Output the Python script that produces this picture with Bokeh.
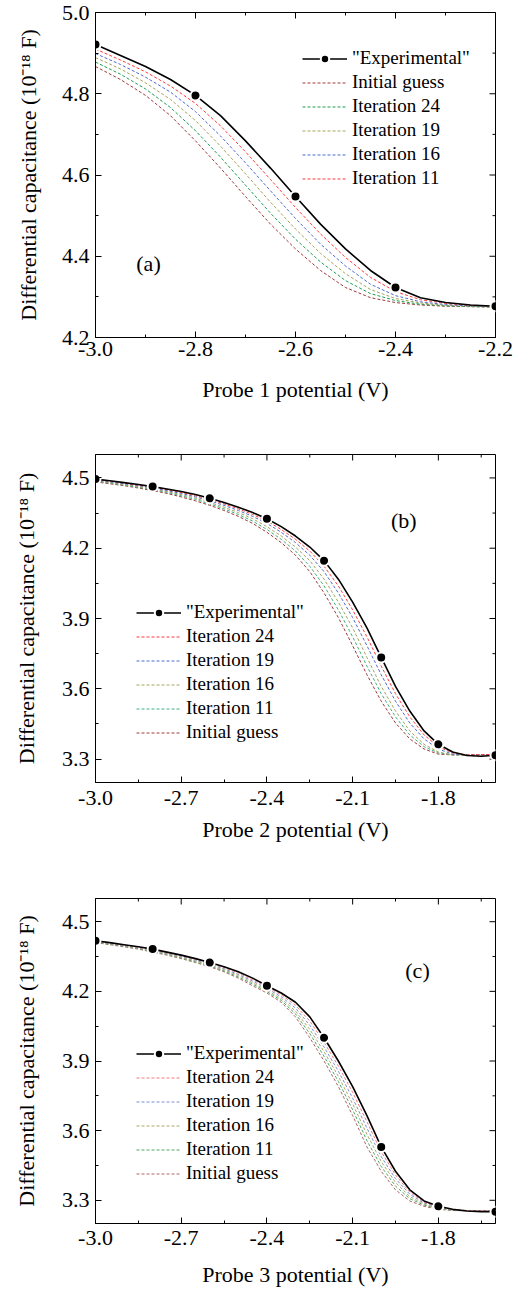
import math
from bokeh.plotting import figure
from bokeh.models import (FixedTicker, NumeralTickFormatter, Range1d,
                          Legend, LegendItem, Label, ColumnDataSource)
from bokeh.layouts import column
from bokeh.embed import file_html
from bokeh.resources import INLINE

FONT = "Liberation Serif"

# ---------------- data: panel (a) ----------------
a_grid = [-3.00, -2.95, -2.90, -2.85, -2.80, -2.75, -2.70, -2.65, -2.60,
          -2.55, -2.50, -2.45, -2.40, -2.35, -2.30, -2.25, -2.20]
a_pts_x = [-3.0, -2.8, -2.6, -2.4, -2.2]
a_pts_y = [4.921, 4.796, 4.547, 4.323, 4.277]
a_exp = [4.921, 4.894, 4.867, 4.835, 4.796, 4.746, 4.684, 4.617, 4.547,
         4.479, 4.418, 4.365, 4.323, 4.298, 4.286, 4.280, 4.277]
a_it11 = [4.910, 4.883, 4.854, 4.819, 4.776, 4.721, 4.657, 4.589, 4.520,
          4.455, 4.397, 4.348, 4.313, 4.293, 4.284, 4.279, 4.277]
a_it16 = [4.899, 4.872, 4.841, 4.804, 4.756, 4.696, 4.630, 4.561, 4.493,
          4.430, 4.376, 4.331, 4.303, 4.288, 4.281, 4.278, 4.276]
a_it19 = [4.889, 4.861, 4.827, 4.786, 4.734, 4.671, 4.603, 4.533, 4.467,
          4.407, 4.357, 4.318, 4.296, 4.285, 4.279, 4.277, 4.276]
a_it24 = [4.878, 4.848, 4.812, 4.766, 4.709, 4.644, 4.575, 4.506, 4.442,
          4.386, 4.340, 4.308, 4.291, 4.282, 4.278, 4.276, 4.275]
a_init = [4.867, 4.835, 4.796, 4.746, 4.684, 4.617, 4.547, 4.479, 4.418,
          4.365, 4.323, 4.298, 4.286, 4.280, 4.277, 4.276, 4.275]
a_xticks = [-3.0, -2.8, -2.6, -2.4, -2.2]
a_xminor = [-2.9, -2.7, -2.5, -2.3]
a_yticks = [4.2, 4.4, 4.6, 4.8, 5.0]
a_yminor = [4.3, 4.5, 4.7, 4.9]

# ---------------- data: panels (b), (c) ----------------
bc_grid = [-3.00, -2.95, -2.90, -2.85, -2.80, -2.75, -2.70, -2.65, -2.60,
           -2.55, -2.50, -2.45, -2.40, -2.35, -2.30, -2.25, -2.20, -2.15,
           -2.10, -2.05, -2.00, -1.95, -1.90, -1.85, -1.80, -1.75, -1.70,
           -1.65, -1.60]
b_pts_x = [-3.0, -2.8, -2.6, -2.4, -2.2, -2.0, -1.8, -1.6]
b_pts_y = [4.495, 4.463, 4.413, 4.326, 4.147, 3.734, 3.363, 3.316]
b_exp = [4.495, 4.488, 4.480, 4.472, 4.463, 4.453, 4.442, 4.429, 4.413,
         4.395, 4.375, 4.352, 4.326, 4.292, 4.252, 4.205, 4.147, 4.068,
         3.970, 3.860, 3.734, 3.610, 3.505, 3.420, 3.363, 3.330, 3.315,
         3.312, 3.316]
b_it24 = [4.493, 4.486, 4.478, 4.469, 4.460, 4.450, 4.438, 4.424, 4.408,
          4.389, 4.368, 4.344, 4.316, 4.280, 4.238, 4.188, 4.123, 4.039,
          3.937, 3.822, 3.697, 3.579, 3.480, 3.403, 3.353, 3.326, 3.318,
          3.319, 3.320]
b_it19 = [4.491, 4.483, 4.475, 4.467, 4.457, 4.446, 4.434, 4.419, 4.402,
          4.383, 4.361, 4.336, 4.306, 4.268, 4.224, 4.170, 4.100, 4.009,
          3.904, 3.784, 3.660, 3.547, 3.454, 3.386, 3.343, 3.321, 3.318,
          3.319, 3.320]
b_it16 = [4.488, 4.480, 4.472, 4.463, 4.453, 4.442, 4.429, 4.413, 4.395,
          4.375, 4.352, 4.326, 4.292, 4.252, 4.205, 4.147, 4.068, 3.970,
          3.860, 3.734, 3.610, 3.505, 3.420, 3.363, 3.330, 3.318, 3.317,
          3.318, 3.320]
b_it11 = [4.486, 4.478, 4.469, 4.460, 4.450, 4.438, 4.424, 4.408, 4.389,
          4.368, 4.344, 4.316, 4.280, 4.238, 4.188, 4.123, 4.039, 3.937,
          3.822, 3.697, 3.579, 3.480, 3.403, 3.353, 3.326, 3.318, 3.317,
          3.318, 3.320]
b_init = [4.483, 4.475, 4.467, 4.457, 4.446, 4.434, 4.419, 4.402, 4.383,
          4.361, 4.336, 4.306, 4.268, 4.224, 4.170, 4.100, 4.009, 3.904,
          3.784, 3.660, 3.547, 3.454, 3.386, 3.343, 3.321, 3.318, 3.318,
          3.319, 3.320]

c_pts_x = [-3.0, -2.8, -2.6, -2.4, -2.2, -2.0, -1.8, -1.6]
c_pts_y = [4.418, 4.382, 4.324, 4.224, 4.000, 3.530, 3.274, 3.251]
c_exp = [4.418, 4.410, 4.401, 4.392, 4.382, 4.369, 4.356, 4.341, 4.324,
         4.306, 4.284, 4.257, 4.224, 4.193, 4.153, 4.090, 4.000, 3.900,
         3.790, 3.665, 3.530, 3.425, 3.345, 3.297, 3.274, 3.261, 3.254,
         3.251, 3.251]
c_it24 = [4.416, 4.408, 4.399, 4.390, 4.379, 4.366, 4.353, 4.338, 4.320,
          4.302, 4.279, 4.250, 4.218, 4.185, 4.140, 4.072, 3.980, 3.878,
          3.765, 3.638, 3.509, 3.409, 3.335, 3.292, 3.271, 3.260, 3.256,
          3.255, 3.255]
c_it19 = [4.415, 4.406, 4.397, 4.388, 4.377, 4.364, 4.350, 4.334, 4.317,
          4.297, 4.273, 4.244, 4.212, 4.177, 4.128, 4.054, 3.960, 3.856,
          3.740, 3.611, 3.488, 3.393, 3.326, 3.288, 3.269, 3.258, 3.256,
          3.255, 3.255]
c_it16 = [4.413, 4.405, 4.396, 4.386, 4.374, 4.361, 4.347, 4.331, 4.313,
          4.293, 4.268, 4.237, 4.205, 4.169, 4.115, 4.036, 3.940, 3.834,
          3.715, 3.584, 3.467, 3.377, 3.316, 3.283, 3.266, 3.257, 3.256,
          3.255, 3.255]
c_it11 = [4.412, 4.403, 4.394, 4.384, 4.372, 4.359, 4.344, 4.327, 4.310,
          4.288, 4.262, 4.231, 4.199, 4.161, 4.103, 4.018, 3.920, 3.812,
          3.690, 3.557, 3.446, 3.361, 3.307, 3.279, 3.264, 3.257, 3.256,
          3.255, 3.255]
c_init = [4.410, 4.401, 4.392, 4.382, 4.369, 4.356, 4.341, 4.324, 4.306,
          4.284, 4.257, 4.224, 4.193, 4.153, 4.090, 4.000, 3.900, 3.790,
          3.665, 3.530, 3.425, 3.345, 3.297, 3.274, 3.261, 3.256, 3.255,
          3.255, 3.255]

bc_xticks = [-3.0, -2.7, -2.4, -2.1, -1.8]
bc_xminor = [-2.85, -2.55, -2.25, -1.95, -1.65]
bc_yticks = [3.3, 3.6, 3.9, 4.2, 4.5]
bc_yminor = [3.45, 3.75, 4.05, 4.35]

YLABEL = "Differential capacitance (10\u207b\u00b9\u2078 F)"


def style_axis(ax, ticks, minor, standoff):
    ax.ticker = FixedTicker(ticks=ticks, minor_ticks=minor)
    ax.formatter = NumeralTickFormatter(format="0.0")
    ax.major_tick_in = 6
    ax.major_tick_out = 0
    ax.minor_tick_in = 3
    ax.minor_tick_out = 0
    ax.axis_line_color = "black"
    ax.major_tick_line_color = "black"
    ax.minor_tick_line_color = "black"
    ax.major_label_standoff = standoff
    ax.major_label_text_font = FONT
    ax.major_label_text_font_size = "22px"
    ax.major_label_text_color = "black"
    ax.axis_label_text_font = FONT
    ax.axis_label_text_font_size = "22px"
    ax.axis_label_text_font_style = "normal"
    ax.axis_label_text_color = "black"


def make_panel(cfg):
    p = figure(width=516, height=cfg["height"],
               x_range=Range1d(*cfg["xr"]), y_range=Range1d(*cfg["yr"]),
               output_backend="svg", toolbar_location=None,
               min_border_left=cfg["bl"], min_border_right=cfg["br"],
               min_border_top=cfg["bt"], min_border_bottom=cfg["bb"])
    p.background_fill_color = "white"
    p.border_fill_color = "white"
    p.outline_line_color = "black"
    p.outline_line_width = 1
    p.xgrid.grid_line_color = None
    p.ygrid.grid_line_color = None

    xa = p.xaxis[0]
    style_axis(xa, cfg["xticks"], cfg["xminor"], cfg["xstand"])
    xa.axis_label = cfg["xlabel"]
    xa.axis_label_standoff = cfg["xlstand"]
    ya = p.yaxis[0]
    style_axis(ya, cfg["yticks"], cfg["yminor"], 6)
    ya.axis_label = YLABEL
    ya.axis_label_standoff = cfg["ylstand"]

    # mirrored inward ticks on top and right edges (outer half clipped by frame)
    x0, x1 = cfg["xr"]
    y0, y1 = cfg["yr"]
    p.scatter(cfg["xticks"], [y1] * len(cfg["xticks"]), marker="dash", angle=math.pi / 2,
              size=12, line_color="black", line_width=1)
    p.scatter(cfg["xminor"], [y1] * len(cfg["xminor"]), marker="dash", angle=math.pi / 2,
              size=6, line_color="black", line_width=1)
    p.scatter([x1] * len(cfg["yticks"]), cfg["yticks"], marker="dash",
              size=12, line_color="black", line_width=1)
    p.scatter([x1] * len(cfg["yminor"]), cfg["yminor"], marker="dash",
              size=6, line_color="black", line_width=1)

    data = dict(x=cfg["grid"], exp=cfg["exp"])
    for key, vals, col in cfg["series"]:
        data[key] = vals
    src = ColumnDataSource(data)
    rends = {}
    for key, vals, col in cfg["series"]:
        rends[key] = p.line("x", key, source=src, line_color=col, line_width=1,
                            line_dash="3 2")
    le = p.line("x", "exp", source=src, line_color="black", line_width=1.6)
    lp = p.scatter(cfg["px"], cfg["py"], size=10, marker="circle",
                   fill_color="black", line_color="white", line_width=2)

    items = [LegendItem(label='"Experimental"', renderers=[le, lp])]
    for key, lab in cfg["legend_order"]:
        items.append(LegendItem(label=lab, renderers=[rends[key]]))
    leg = Legend(items=items, location=cfg["legloc"], orientation="vertical",
                 label_text_font=FONT, label_text_font_size="19px",
                 label_text_color="black",
                 glyph_width=45, glyph_height=21, label_height=21, spacing=2,
                 padding=0, margin=0, label_standoff=5,
                 border_line_alpha=0, background_fill_alpha=0)
    p.add_layout(leg)

    p.add_layout(Label(x=cfg["tag_xy"][0], y=cfg["tag_xy"][1], text=cfg["tag"],
                       text_align="center", text_baseline="middle",
                       text_font=FONT, text_font_size="22px", text_color="black"))
    return p


pa = make_panel(dict(
    height=430, xr=(-3.0, -2.2), yr=(4.2, 5.0), bl=95, br=21, bt=12, bb=93,
    xticks=a_xticks, xminor=a_xminor, yticks=a_yticks, yminor=a_yminor,
    xlabel="Probe 1 potential (V)", xstand=4, xlstand=18, ylstand=18,
    grid=a_grid, exp=a_exp, px=a_pts_x, py=a_pts_y,
    series=[("init", a_init, "#a03a3a"), ("it24", a_it24, "#1f9e50"),
            ("it19", a_it19, "#a3a35a"), ("it16", a_it16, "#4d6bd0"),
            ("it11", a_it11, "#ff3b3b")],
    legend_order=[("init", "Initial guess"), ("it24", "Iteration 24"),
                  ("it19", "Iteration 19"), ("it16", "Iteration 16"),
                  ("it11", "Iteration 11")],
    legloc=(207, 148), tag="(a)", tag_xy=(-2.894, 4.382)))

pb = make_panel(dict(
    height=420, xr=(-3.0, -1.6), yr=(3.2, 4.6), bl=92, br=17, bt=24, bb=68,
    xticks=bc_xticks, xminor=bc_xminor, yticks=bc_yticks, yminor=bc_yminor,
    xlabel="Probe 2 potential (V)", xstand=8, xlstand=9, ylstand=20,
    grid=bc_grid, exp=b_exp, px=b_pts_x, py=b_pts_y,
    series=[("init", b_init, "#a03a3a"), ("it11", b_it11, "#3fae80"),
            ("it16", b_it16, "#a3a35a"), ("it19", b_it19, "#4d6bd0"),
            ("it24", b_it24, "#ff3b3b")],
    legend_order=[("it24", "Iteration 24"), ("it19", "Iteration 19"),
                  ("it16", "Iteration 16"), ("it11", "Iteration 11"),
                  ("init", "Initial guess")],
    legloc=(41, 39), tag="(b)", tag_xy=(-1.921, 4.320)))

pc = make_panel(dict(
    height=441, xr=(-3.0, -1.6), yr=(3.2, 4.6), bl=94, br=20, bt=48, bb=68,
    xticks=bc_xticks, xminor=bc_xminor, yticks=bc_yticks, yminor=bc_yminor,
    xlabel="Probe 3 potential (V)", xstand=7, xlstand=14, ylstand=20,
    grid=bc_grid, exp=c_exp, px=c_pts_x, py=c_pts_y,
    series=[("init", c_init, "#b06464"), ("it11", c_it11, "#4aa866"),
            ("it16", c_it16, "#aaaa66"), ("it19", c_it19, "#7d8fd3"),
            ("it24", c_it24, "#f27a7a")],
    legend_order=[("it24", "Iteration 24"), ("it19", "Iteration 19"),
                  ("it16", "Iteration 16"), ("it11", "Iteration 11"),
                  ("init", "Initial guess")],
    legloc=(41, 39), tag="(c)", tag_xy=(-1.873, 4.288)))

layout = column(pa, pb, pc, spacing=0)
open("out.html", "w").write(file_html(layout, INLINE))
